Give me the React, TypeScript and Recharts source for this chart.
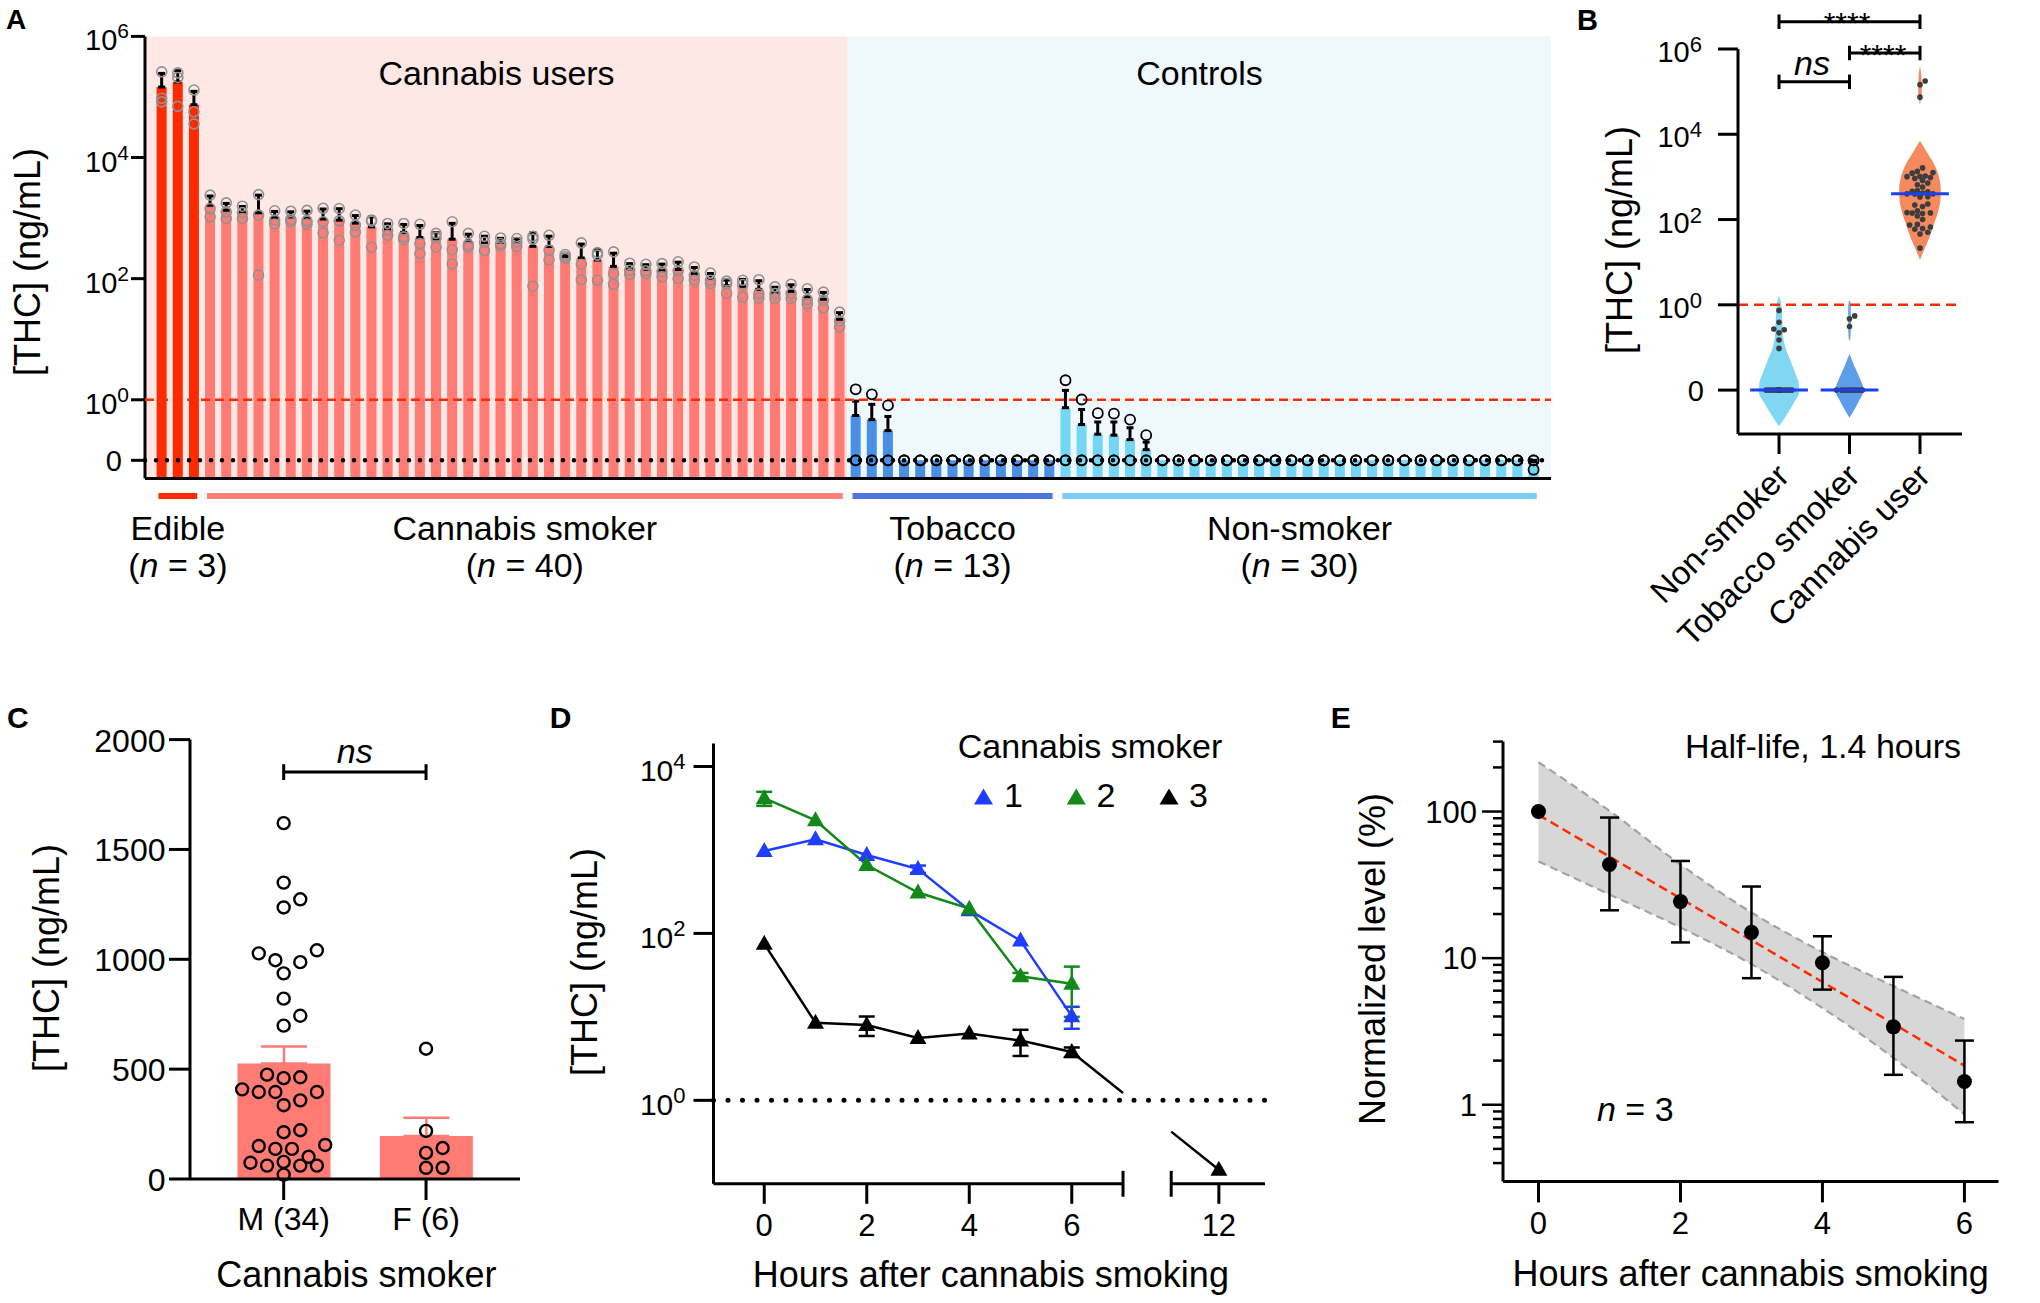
import React from "react";
import {
  ComposedChart,
  Bar,
  Cell,
  ErrorBar,
  Scatter,
  Line,
  Area,
  XAxis,
  YAxis,
  ReferenceLine,
  ReferenceArea,
} from "recharts";

const FONT = '"Liberation Sans", Arial, Helvetica, sans-serif';

// ---------------- A / B : THC per participant (ng/mL) ----------------
// cannabis users, three replicate measurements each
const edibleReps = [
  [260000, 95000, 83000],
  [250000, 210000, 70000],
  [130000, 57000, 36000],
];
const smokerReps = [
  [2390, 1440, 1050], [1780, 1270, 985], [1570, 1230, 985], [2440, 1120, 114],
  [1320, 930, 800], [1300, 950, 880], [1340, 900, 800], [1450, 870, 570],
  [1440, 900, 431], [1125, 765, 590], [930, 890, 330], [815, 630, 520],
  [815, 490, 440], [790, 380, 260], [560, 480, 330], [870, 300, 175],
  [560, 360, 330], [500, 400, 290], [470, 380, 350], [460, 400, 340],
  [500, 450, 75], [520, 295, 205], [250, 230, 215], [390, 173, 96],
  [270, 245, 94], [277, 121, 80], [180, 138, 118], [173, 135, 121],
  [177, 130, 107], [190, 135, 100], [156, 114, 94], [124, 94, 83],
  [91, 83, 57], [94, 80, 50], [96, 56, 48], [73, 57, 47],
  [81, 57, 47], [68, 45, 38], [60, 44, 33], [28, 20, 16],
];
// controls: mean, mean + SD, highest replicate (the other two are below LOD)
const tobaccoMean = [0.55, 0.47, 0.31, 0, 0, 0, 0, 0, 0, 0, 0, 0, 0];
const tobaccoTop = [0.95, 0.84, 0.53, 0, 0, 0, 0, 0, 0, 0, 0, 0, 0];
const tobaccoMax = [1.49, 1.23, 0.81, 0, 0, 0, 0, 0, 0, 0, 0, 0, 0];
const nonSmokerMean = [
  0.74, 0.39, 0.27, 0.26, 0.22, 0.15, 0, 0, 0, 0, 0, 0, 0, 0, 0,
  0, 0, 0, 0, 0, 0, 0, 0, 0, 0, 0, 0, 0, 0, 0.095,
];
const nonSmokerTop = [
  1.43, 0.69, 0.43, 0.43, 0.345, 0.2, 0, 0, 0, 0, 0, 0, 0, 0, 0,
  0, 0, 0, 0, 0, 0, 0, 0, 0, 0, 0, 0, 0, 0, 0.1,
];
const nonSmokerMax = [
  2.1, 1.01, 0.6, 0.59, 0.47, 0.26, 0, 0, 0, 0, 0, 0, 0, 0, 0,
  0, 0, 0, 0, 0, 0, 0, 0, 0, 0, 0, 0, 0, 0, 0.07,
];

// B violin outlines: [log10 value, half width]
const nonSmokerViolin = [
  [0.2, 0], [0.05, 0.03], [-0.3, 0.045], [-0.7, 0.055], [-1.0, 0.09], [-1.3, 0.16],
  [-1.6, 0.23], [-1.85, 0.28], [-2.05, 0.285], [-2.3, 0.21], [-2.55, 0.12], [-2.85, 0],
];
const tobaccoViolinUpper = [[0.12, 0], [0.0, 0.018], [-0.4, 0.02], [-0.75, 0.015], [-0.85, 0]];
const tobaccoViolinLower = [[-1.15, 0], [-1.4, 0.06], [-1.7, 0.14], [-2.0, 0.2], [-2.3, 0.12], [-2.65, 0]];
const cannabisViolinUpper = [[5.6, 0], [5.35, 0.02], [4.95, 0.025], [4.7, 0]];
const cannabisViolinMain = [
  [3.85, 0], [3.6, 0.09], [3.3, 0.2], [3.0, 0.27], [2.7, 0.295], [2.45, 0.29],
  [2.2, 0.26], [1.9, 0.2], [1.6, 0.14], [1.3, 0.06], [1.05, 0],
];
const bNames = ["Non-smoker", "Tobacco smoker", "Cannabis user"];

// ---------------- C ----------------
const maleThc = [
  1620, 1349, 1273, 1236, 1041, 1027, 996, 987, 936, 821, 743, 698, 475, 463, 459, 408, 396,
  396, 396, 358, 336, 222, 213, 155, 150, 137, 137, 101, 78, 74, 61, 61, 61, 20,
];
const femaleThc = [593, 219, 141, 119, 51, 51];
const cNames = ["M (34)", "F (6)"];

// ---------------- D ----------------
const dHours = [0, 1, 2, 3, 4, 5, 6];
const smoker1Thc = [970, 1340, 870, 590, 190, 82, 10.2];
const smoker1Sd = [0, 0, 0, 60, 0, 0, 3];
const smoker2Thc = [4170, 2270, 660, 309, 198, 30.6, 25];
const smoker2Sd = [800, 0, 0, 0, 0, 3, 15];
const smoker3Hours = [0, 1, 2, 3, 4, 5, 6, 12];
const smoker3Thc = [75, 8.5, 8, 5.6, 6.3, 5.2, 3.8, 0.147];
const smoker3Sd = [0, 0, 2.1, 0, 0, 1.8, 0.5, 0];
const dTickHours = [0, 2, 4, 6, 12];

// ---------------- E ----------------
const eHours = [0, 1, 2, 3, 4, 5, 6];
const eLevel = [100, 43.5, 24.3, 15, 9.3, 3.4, 1.44];
const eLow = [100, 21.2, 12.8, 7.3, 6.1, 1.6, 0.76];
const eHigh = [100, 91, 46, 30.8, 14.1, 7.45, 2.74];
const fitHours = [0, 6];
const fitLevel = [95, 1.85];
const bandLow = [45.7, 27.2, 16.2, 9.1, 4.57, 2.09, 0.86];
const bandHigh = [217, 101, 43.5, 20.5, 11, 6.45, 3.84];
const eTicks = [
  0.4, 0.5, 0.6, 0.7, 0.8, 0.9, 1, 2, 3, 4, 5, 6, 7, 8, 9, 10,
  20, 30, 40, 50, 60, 70, 80, 90, 100, 200, 300,
];
const eTickLabels: Record<string, string> = { "1": "1", "10": "10", "100": "100" };

// ---------------- helpers ----------------
const avg = (a: number[]) => a.reduce((s, v) => s + v, 0) / a.length;
const stdev = (a: number[]) => {
  const m = avg(a);
  return Math.sqrt(a.reduce((s, v) => s + (v - m) ** 2, 0) / (a.length - 1));
};
const median = (a: number[]) => {
  const s = [...a].sort((x, y) => x - y);
  const h = Math.floor(s.length / 2);
  return s.length % 2 ? s[h] : (s[h - 1] + s[h]) / 2;
};

// simple beeswarm: x offsets in px so markers do not overlap
function swarm(vals: number[], pxPerY: number, step: number, gap: number, maxOff: number) {
  const cands = [0];
  for (let k = 1; k * step <= maxOff + 1e-6; k++) cands.push(k * step, -k * step);
  const order = vals.map((_, k) => k).sort((a, b) => vals[a] - vals[b]);
  const placed: { x: number; y: number }[] = [];
  const out = vals.map(() => 0);
  for (const k of order) {
    const y = vals[k] * pxPerY;
    let best = 0;
    let bestD = -1;
    for (const c of cands) {
      let d = Infinity;
      for (const p of placed) d = Math.min(d, Math.hypot(p.x - c, p.y - y));
      if (d >= gap) {
        best = c;
        break;
      }
      if (d > bestD) {
        bestD = d;
        best = c;
      }
    }
    placed.push({ x: best, y });
    out[k] = best;
  }
  return out;
}

// ---------------- A setup ----------------
type Group = "edible" | "smoker" | "tobacco" | "nonSmoker";
const GROUPS: Group[] = ["edible", "smoker", "tobacco", "nonSmoker"];
const GROUP_LABEL: Record<Group, string> = {
  edible: "Edible",
  smoker: "Cannabis smoker",
  tobacco: "Tobacco",
  nonSmoker: "Non-smoker",
};
const BAR_COLOR: Record<Group, string> = {
  edible: "#ff2a00",
  smoker: "#ff7b74",
  tobacco: "#4a8fe7",
  nonSmoker: "#74d5f5",
};
const LINE_COLOR: Record<Group, string> = {
  edible: "#ff2a00",
  smoker: "#ff8079",
  tobacco: "#4a78e0",
  nonSmoker: "#7dcaf2",
};

type Sample = { group: Group; mean: number; top: number; reps: number[] };
const samples: Sample[] = [
  ...edibleReps.map((r) => ({ group: "edible" as Group, mean: avg(r), top: avg(r) + stdev(r), reps: r })),
  ...smokerReps.map((r) => ({ group: "smoker" as Group, mean: avg(r), top: avg(r) + stdev(r), reps: r })),
  ...tobaccoMean.map((m, k) => ({ group: "tobacco" as Group, mean: m, top: tobaccoTop[k], reps: [tobaccoMax[k], 0, 0] })),
  ...nonSmokerMean.map((m, k) => ({ group: "nonSmoker" as Group, mean: m, top: nonSmokerTop[k], reps: [nonSmokerMax[k], 0, 0] })),
];
const isUser = (g: Group) => g === "edible" || g === "smoker";

const A_MIN = -1.3;
const A_MAX = 6;
const A_ZERO = -1;
const A_XMIN = -1.035;
const A_XMAX = 86.08;
const A_UNDER = -1.59;
const tA = (v: number) => (v > 0 ? Math.log10(v) : A_ZERO);
const axPx = (idx: number) => 145 + ((idx - A_XMIN) * 1406) / (A_XMAX - A_XMIN);

const aData = samples.map((s, i) => ({
  i,
  range: [A_MIN, tA(s.mean)],
  err: s.top > s.mean ? [0, tA(s.top) - tA(s.mean)] : null,
  color: BAR_COLOR[s.group],
}));
const repUsers = samples.flatMap((s, i) => (isUser(s.group) ? s.reps.map((v) => ({ i, p: tA(v) })) : []));
const repControls = samples.flatMap((s, i) => (!isUser(s.group) ? s.reps.map((v) => ({ i, p: tA(v) })) : []));
const spans = GROUPS.map((g) => {
  const idx = samples.map((s, i) => (s.group === g ? i : -1)).filter((i) => i >= 0);
  return { g, first: idx[0], last: idx[idx.length - 1], n: idx.length };
});
const USER_END = spans[1].last + 0.5;

// ---------------- B setup ----------------
const B_MIN = -3.03;
const B_MAX = 6;
const B_XMIN = -0.582;
const B_XMAX = 2.596;
const B_PX_X = 224 / (B_XMAX - B_XMIN);
const B_PX_Y = 385 / (B_MAX - B_MIN);
const tB = (v: number) => (v > 0 ? Math.log10(v) : -2);
const bValues = [
  nonSmokerMean,
  tobaccoMean,
  samples.filter((s) => isUser(s.group)).map((s) => s.mean),
];
const bDots = bValues.flatMap((vals, c) => {
  const p = vals.map(tB);
  const off = swarm(p, B_PX_Y, 2.6, 5.6, 14);
  return p.map((pv, k) => ({ x: c + off[k] / B_PX_X, p: pv }));
});
const bMedians = bValues.map((vals) => median(vals.map(tB)));
const violins = [
  { c: 0, color: "#80d7f3", prof: nonSmokerViolin },
  { c: 1, color: "#6aa6ec", prof: tobaccoViolinUpper },
  { c: 1, color: "#5c9ee9", prof: tobaccoViolinLower },
  { c: 2, color: "#f58a5f", prof: cannabisViolinUpper },
  { c: 2, color: "#f58a5f", prof: cannabisViolinMain },
].map((v) => ({ ...v, data: v.prof.map(([p, hw]) => ({ p, w: [v.c - hw, v.c + hw] })) }));
const bBrackets = [
  { from: 0, to: 2, p: 6.64 },
  { from: 1, to: 2, p: 5.906 },
  { from: 0, to: 1, p: 5.23 },
];

// ---------------- C setup ----------------
const C_PX_X = 142.3;
const C_XDOM: [number, number] = [-0.658, 1.66];
const cGroups = [maleThc, femaleThc];
const cBars = cGroups.map((vals, c) => ({
  x: c,
  mean: avg(vals),
  err: [0, stdev(vals) / Math.sqrt(vals.length)],
}));
const cDots = cGroups.flatMap((vals, c) => {
  const off = swarm(vals, 0.2198, 8.3, 14.5, 45);
  return vals.map((v, k) => ({ x: c + off[k] / C_PX_X, y: v }));
});

// ---------------- D setup ----------------
const D_XMIN = -0.99;
const D_XMAX = 9.77;
const D_GAP0 = 7.0;
const D_GAP1 = 7.94;
const D_SHIFT = 3.13;
const D_YMIN = 0.1;
const D_YMAX = 18800;
const dPos = (h: number) => (h > D_GAP0 ? h - D_SHIFT : h);
const dSeries = [
  { name: "1", color: "#1f3dff", data: dHours.map((h, k) => ({ x: dPos(h), v: smoker1Thc[k], err: smoker1Sd[k] })) },
  { name: "2", color: "#13891a", data: dHours.map((h, k) => ({ x: dPos(h), v: smoker2Thc[k], err: smoker2Sd[k] })) },
  {
    name: "3",
    color: "#000000",
    data: smoker3Hours
      .map((h, k) => ({ x: dPos(h), v: smoker3Thc[k], err: smoker3Sd[k], h }))
      .filter((d) => d.h <= D_GAP0),
  },
];
// connection from 6 h to 12 h, interrupted at the axis break
const d3Pts = smoker3Hours.map((h, k) => ({ x: dPos(h), v: smoker3Thc[k], h }));
const d3a = d3Pts.filter((d) => d.h <= D_GAP0).slice(-1)[0];
const d3b = d3Pts.filter((d) => d.h > D_GAP0)[0];
const logInterp = (x: number) =>
  10 ** (Math.log10(d3a.v) + ((Math.log10(d3b.v) - Math.log10(d3a.v)) * (x - d3a.x)) / (d3b.x - d3a.x));
const dBridgeA = [{ x: d3a.x, v: d3a.v }, { x: D_GAP0, v: logInterp(D_GAP0) }];
const dBridgeB = [{ x: D_GAP1, v: logInterp(D_GAP1) }, { x: d3b.x, v: d3b.v, marker: true }];

// ---------------- E setup ----------------
const ePoints = eHours.map((h, k) => ({
  x: h,
  v: eLevel[k],
  err: eHigh[k] > eLevel[k] ? [eLevel[k] - eLow[k], eHigh[k] - eLevel[k]] : null,
}));
const eFit = fitHours.map((h, k) => ({ x: h, v: fitLevel[k] }));
const eBand = eHours.map((h, k) => ({ x: h, band: [bandLow[k], bandHigh[k]] }));

// ---------------- shared renderers ----------------
const ring = (stroke: string, r: number, sw: number) => (props: any) =>
  props.cx == null ? <g /> : <circle cx={props.cx} cy={props.cy} r={r} fill="none" stroke={stroke} strokeWidth={sw} />;
const solidDot = (fill: string, r: number) => (props: any) =>
  props.cx == null ? <g /> : <circle cx={props.cx} cy={props.cy} r={r} fill={fill} />;
const triPath = (cx: number, cy: number, hw: number, h: number) =>
  `M${cx},${cy - h * 0.6} L${cx + hw},${cy + h * 0.4} L${cx - hw},${cy + h * 0.4} Z`;
const triangleDot = (color: string, onlyMarked = false) => (props: any) => {
  const { cx, cy, payload, index } = props;
  if (cx == null || cy == null || (onlyMarked && !payload?.marker)) return <g key={`t${index}`} />;
  return <path key={`t${index}`} d={triPath(cx, cy, 8.5, 15)} fill={color} />;
};

const powTick = (size: number, sup: number, supDy: number, dy: number, zeroAt?: number, zeroDy = dy, zeroDx = 0) =>
  (props: any) => {
    const { x, y, payload } = props;
    const v = payload.value;
    if (zeroAt !== undefined && v === zeroAt) {
      return (
        <text x={x + zeroDx} y={y} dy={zeroDy} textAnchor="end" fontSize={size} fontFamily={FONT} fill="#000">
          0
        </text>
      );
    }
    const exp = zeroAt === undefined ? Math.round(Math.log10(v)) : v;
    return (
      <text x={x} y={y} dy={dy} textAnchor="end" fontSize={size} fontFamily={FONT} fill="#000">
        <tspan>10</tspan>
        <tspan dy={supDy} fontSize={sup}>
          {exp}
        </tspan>
      </text>
    );
  };
const xText = (size: number, dy: number, fmt: (v: number) => string) => (props: any) => (
  <text x={props.x} y={props.y} dy={dy} textAnchor="middle" fontSize={size} fontFamily={FONT} fill="#000">
    {fmt(props.payload.value)}
  </text>
);
const yText = (size: number, dy: number) => (props: any) => (
  <text x={props.x} y={props.y} dy={dy} textAnchor="end" fontSize={size} fontFamily={FONT} fill="#000">
    {props.payload.value}
  </text>
);
const AX = { stroke: "#000", strokeWidth: 3 };

// ---------------- panels ----------------
function PanelA() {
  return (
    <div style={{ position: "absolute", left: 0, top: 0 }}>
      <ComposedChart width={1560} height={520} data={aData} margin={{ top: 36.4, right: 9, bottom: 40.5, left: 45 }}>
        <XAxis type="number" dataKey="i" domain={[A_XMIN, A_XMAX]} allowDataOverflow height={1} tick={false} tickLine={false} axisLine={AX} />
        <YAxis
          type="number"
          domain={[A_MIN, A_MAX]}
          allowDataOverflow
          ticks={[A_ZERO, 0, 2, 4, 6]}
          interval={0}
          width={100}
          tickSize={14}
          tickMargin={2}
          tickLine={AX}
          axisLine={AX}
          tick={powTick(29, 21, -12, 14, A_ZERO, 11, -7)}
        />
        <ReferenceArea x1={A_XMIN} x2={USER_END} y1={A_MIN} y2={A_MAX} fill="#fee8e6" fillOpacity={1} stroke="none" zIndex={-10} />
        <ReferenceArea x1={USER_END} x2={A_XMAX} y1={A_MIN} y2={A_MAX} fill="#eef8fd" fillOpacity={1} stroke="none" zIndex={-10} />
        <Bar dataKey="range" barSize={10} isAnimationActive={false}>
          {aData.map((d) => (
            <Cell key={d.i} fill={d.color} />
          ))}
          <ErrorBar dataKey="err" width={3.5} stroke="#000" strokeWidth={3} direction="y" />
        </Bar>
        <ReferenceLine y={0} stroke="#ff2a00" strokeWidth={2.5} strokeDasharray="9 5" zIndex={500} />
        <ReferenceLine y={A_ZERO} stroke="#000" strokeWidth={4.5} strokeDasharray="0 11" strokeLinecap="round" zIndex={500} />
        <Scatter data={repUsers} dataKey="p" shape={ring("#929292", 5, 1.6)} isAnimationActive={false} />
        <Scatter data={repControls} dataKey="p" shape={ring("#000", 5, 1.8)} isAnimationActive={false} />
        {spans.map((s) => (
          <ReferenceLine
            key={s.g}
            segment={[
              { x: s.first - 0.2, y: A_UNDER },
              { x: s.last + 0.2, y: A_UNDER },
            ]}
            stroke={LINE_COLOR[s.g]}
            strokeWidth={6}
            ifOverflow="visible"
          />
        ))}
      </ComposedChart>
    </div>
  );
}

const bXTick = (props: any) => {
  const { x, y, payload } = props;
  const ax = x + 12;
  const ay = y + 24;
  return (
    <text x={ax} y={ay} transform={`rotate(-45 ${ax} ${ay})`} textAnchor="end" fontSize={33} fontFamily={FONT} fill="#000">
      {bNames[payload.value]}
    </text>
  );
};

function PanelB() {
  return (
    <div style={{ position: "absolute", left: 1560, top: 0 }}>
      <ComposedChart layout="vertical" width={480} height={680} margin={{ top: 49, right: 78, bottom: 245, left: 118 }}>
        <XAxis
          type="number"
          dataKey="x"
          domain={[B_XMIN, B_XMAX]}
          allowDataOverflow
          ticks={[0, 1, 2]}
          interval={0}
          height={1}
          tickSize={20}
          tickMargin={0}
          tickLine={AX}
          axisLine={AX}
          tick={bXTick}
        />
        <YAxis
          type="number"
          dataKey="p"
          reversed
          domain={[B_MIN, B_MAX]}
          allowDataOverflow
          ticks={[-2, 0, 2, 4, 6]}
          interval={0}
          width={60}
          tickSize={20}
          tickMargin={16}
          tickLine={AX}
          axisLine={AX}
          tick={powTick(29, 22, -10, 13, -2, 10.5, 2)}
        />
        {violins.map((v, k) => (
          <Area
            key={k}
            data={v.data}
            dataKey="w"
            type="monotone"
            fill={v.color}
            fillOpacity={1}
            stroke="none"
            isAnimationActive={false}
          />
        ))}
        <ReferenceLine y={0} stroke="#ff2a00" strokeWidth={2.5} strokeDasharray="10 6" />
        <Scatter data={bDots} shape={solidDot("#3d3d3d", 2.8)} isAnimationActive={false} />
        {bMedians.map((m, c) => (
          <ReferenceLine
            key={`m${c}`}
            segment={[
              { x: c - 0.41, y: m },
              { x: c + 0.41, y: m },
            ]}
            stroke="#1c3ff0"
            strokeWidth={3}
            zIndex={700}
          />
        ))}
        {bBrackets.map((b, k) => (
          <React.Fragment key={`b${k}`}>
            <ReferenceLine segment={[{ x: b.from, y: b.p }, { x: b.to, y: b.p }]} stroke="#000" strokeWidth={3} ifOverflow="visible" />
            <ReferenceLine segment={[{ x: b.from, y: b.p - 0.17 }, { x: b.from, y: b.p + 0.17 }]} stroke="#000" strokeWidth={3} ifOverflow="visible" />
            <ReferenceLine segment={[{ x: b.to, y: b.p - 0.17 }, { x: b.to, y: b.p + 0.17 }]} stroke="#000" strokeWidth={3} ifOverflow="visible" />
          </React.Fragment>
        ))}
      </ComposedChart>
    </div>
  );
}

function PanelC() {
  return (
    <div style={{ position: "absolute", left: 0, top: 680 }}>
      <ComposedChart width={540} height={623} data={cBars} margin={{ top: 59.6, right: 20, bottom: 123, left: 90 }}>
        <XAxis
          type="number"
          dataKey="x"
          domain={C_XDOM}
          allowDataOverflow
          ticks={[0, 1]}
          interval={0}
          height={1}
          tickSize={21}
          tickMargin={0}
          tickLine={AX}
          axisLine={AX}
          tick={xText(32, 30, (v) => cNames[v])}
        />
        <XAxis xAxisId="dots" type="number" dataKey="x" domain={C_XDOM} allowDataOverflow hide />
        <YAxis
          type="number"
          domain={[0, 2000]}
          ticks={[0, 500, 1000, 1500, 2000]}
          interval={0}
          width={100}
          tickSize={21}
          tickMargin={3.5}
          tickLine={AX}
          axisLine={AX}
          tick={yText(32, 12)}
        />
        <Bar dataKey="mean" barSize={93} fill="#ff7b74" isAnimationActive={false}>
          <ErrorBar dataKey="err" width={23} stroke="#ff7b74" strokeWidth={2.5} direction="y" />
        </Bar>
        <Scatter xAxisId="dots" data={cDots} dataKey="y" shape={ring("#000", 6, 2.4)} isAnimationActive={false} />
        <ReferenceLine segment={[{ x: 0, y: 1852 }, { x: 1, y: 1852 }]} stroke="#000" strokeWidth={3} />
        <ReferenceLine segment={[{ x: 0, y: 1816 }, { x: 0, y: 1888 }]} stroke="#000" strokeWidth={3} />
        <ReferenceLine segment={[{ x: 1, y: 1816 }, { x: 1, y: 1888 }]} stroke="#000" strokeWidth={3} />
      </ComposedChart>
    </div>
  );
}

function PanelD() {
  const tickUp = D_YMIN * 10 ** 0.155;
  const tickDown = D_YMIN * 10 ** -0.155;
  return (
    <div style={{ position: "absolute", left: 540, top: 680 }}>
      <ComposedChart width={760} height={623} margin={{ top: 63.6, right: 35, bottom: 118.2, left: 53.5 }}>
        <XAxis
          type="number"
          dataKey="x"
          domain={[D_XMIN, D_XMAX]}
          allowDataOverflow
          ticks={dTickHours.map(dPos)}
          interval={0}
          height={1}
          tickSize={20}
          tickMargin={0}
          tickLine={AX}
          axisLine={false}
          tick={xText(31, 32, (v) => String(Math.round(v > D_GAP0 ? v + D_SHIFT : v)))}
        />
        <YAxis
          type="number"
          scale="log"
          domain={[D_YMIN, D_YMAX]}
          allowDataOverflow
          ticks={[1, 100, 10000]}
          interval={0}
          width={120}
          tickSize={20}
          tickMargin={8}
          tickLine={AX}
          axisLine={AX}
          tick={powTick(30, 22, -12, 14.5)}
        />
        <ReferenceLine y={1} stroke="#000" strokeWidth={5} strokeDasharray="0 14.5" strokeLinecap="round" />
        <ReferenceLine segment={[{ x: D_XMIN, y: D_YMIN }, { x: D_GAP0, y: D_YMIN }]} stroke="#000" strokeWidth={3} ifOverflow="visible" />
        <ReferenceLine segment={[{ x: D_GAP1, y: D_YMIN }, { x: D_XMAX, y: D_YMIN }]} stroke="#000" strokeWidth={3} ifOverflow="visible" />
        <ReferenceLine segment={[{ x: D_GAP0, y: tickDown }, { x: D_GAP0, y: tickUp }]} stroke="#000" strokeWidth={3} ifOverflow="visible" />
        <ReferenceLine segment={[{ x: D_GAP1, y: tickDown }, { x: D_GAP1, y: tickUp }]} stroke="#000" strokeWidth={3} ifOverflow="visible" />
        {dSeries.map((s) => (
          <Line
            key={s.name}
            data={s.data}
            dataKey="v"
            type="linear"
            stroke={s.color}
            strokeWidth={2.5}
            dot={triangleDot(s.color)}
            activeDot={false}
            isAnimationActive={false}
          >
            <ErrorBar dataKey="err" width={8} stroke={s.color} strokeWidth={2.5} direction="y" />
          </Line>
        ))}
        <Line data={dBridgeA} dataKey="v" type="linear" stroke="#000" strokeWidth={2.5} dot={false} activeDot={false} isAnimationActive={false} />
        <Line
          data={dBridgeB}
          dataKey="v"
          type="linear"
          stroke="#000"
          strokeWidth={2.5}
          dot={triangleDot("#000", true)}
          activeDot={false}
          isAnimationActive={false}
        />
      </ComposedChart>
    </div>
  );
}

const eYTick = (props: any) => {
  const { x, y, payload } = props;
  const axisX = x + 1;
  const label = eTickLabels[String(payload.value)];
  const len = label ? 21 : 10;
  return (
    <g>
      <line x1={axisX - len} x2={axisX} y1={y} y2={y} stroke="#000" strokeWidth={2.5} />
      {label && (
        <text x={axisX - 26} y={y} dy={11} textAnchor="end" fontSize={31} fontFamily={FONT} fill="#000">
          {label}
        </text>
      )}
    </g>
  );
};

function PanelE() {
  return (
    <div style={{ position: "absolute", left: 1300, top: 680 }}>
      <ComposedChart width={740} height={623} margin={{ top: 61.6, right: 41.5, bottom: 120.6, left: 103 }}>
        <XAxis
          type="number"
          dataKey="x"
          domain={[-0.5, 6.48]}
          allowDataOverflow
          ticks={[0, 2, 4, 6]}
          interval={0}
          height={1}
          tickSize={21}
          tickMargin={0}
          tickLine={AX}
          axisLine={AX}
          tick={xText(31, 31.6, (v) => String(v))}
        />
        <YAxis
          type="number"
          scale="log"
          domain={[0.3, 300]}
          allowDataOverflow
          ticks={eTicks}
          interval={0}
          width={100}
          tickSize={1}
          tickMargin={0}
          tickLine={false}
          axisLine={AX}
          tick={eYTick}
        />
        <Area
          data={eBand}
          dataKey="band"
          type="monotone"
          fill="#d7d7d7"
          fillOpacity={1}
          stroke="#a3a3a3"
          strokeWidth={2.2}
          strokeDasharray="8 5"
          isAnimationActive={false}
        />
        <Line data={eFit} dataKey="v" type="linear" stroke="#ff2a00" strokeWidth={2.5} strokeDasharray="9 5" dot={false} activeDot={false} isAnimationActive={false} />
        <Line data={ePoints} dataKey="v" stroke="none" dot={solidDot("#000", 7.5)} activeDot={false} isAnimationActive={false}>
          <ErrorBar dataKey="err" width={9.5} stroke="#000" strokeWidth={2.5} direction="y" />
        </Line>
      </ComposedChart>
    </div>
  );
}

// ---------------- text overlay ----------------
const Txt = ({ x, y, size = 34, anchor = "middle", bold = false, italic = false, rot = 0, children }: any) => (
  <text
    x={x}
    y={y}
    fontSize={size}
    textAnchor={anchor}
    fontWeight={bold ? 700 : 400}
    fontStyle={italic ? "italic" : "normal"}
    fontFamily={FONT}
    fill="#000"
    transform={rot ? `rotate(${rot} ${x} ${y})` : undefined}
  >
    {children}
  </text>
);

function Overlay() {
  return (
    <svg width={2040} height={1303} style={{ position: "absolute", left: 0, top: 0, pointerEvents: "none" }}>
      {/* A */}
      <Txt x={6} y={29} size={28} anchor="start" bold>A</Txt>
      <Txt x={496.5} y={85}>Cannabis users</Txt>
      <Txt x={1199.5} y={85}>Controls</Txt>
      <Txt x={39.5} y={262} size={36} rot={-90}>[THC] (ng/mL)</Txt>
      {spans.map((s) => {
        const cx = axPx((s.first + s.last) / 2);
        return (
          <g key={s.g}>
            <Txt x={cx} y={540}>{GROUP_LABEL[s.g]}</Txt>
            <Txt x={cx} y={577}>
              (<tspan fontStyle="italic">n</tspan> = {s.n})
            </Txt>
          </g>
        );
      })}
      {/* B */}
      <Txt x={1577} y={30} size={29} anchor="start" bold>B</Txt>
      <Txt x={1632} y={240} size={36} rot={-90}>[THC] (ng/mL)</Txt>
      <Txt x={1847} y={33} size={30}>****</Txt>
      <Txt x={1883} y={65} size={30}>****</Txt>
      <Txt x={1812} y={75} italic>ns</Txt>
      {/* C */}
      <Txt x={7} y={728} size={30} anchor="start" bold>C</Txt>
      <Txt x={58.5} y={958} size={36} rot={-90}>[THC] (ng/mL)</Txt>
      <Txt x={354.7} y={763.4} italic>ns</Txt>
      <Txt x={356.4} y={1287} size={36}>Cannabis smoker</Txt>
      {/* D */}
      <Txt x={549.7} y={728} size={30} anchor="start" bold>D</Txt>
      <Txt x={597.3} y={962} size={36} rot={-90}>[THC] (ng/mL)</Txt>
      <Txt x={990.8} y={1287} size={36}>Hours after cannabis smoking</Txt>
      <Txt x={1090} y={757.5}>Cannabis smoker</Txt>
      {dSeries.map((s, k) => (
        <g key={s.name}>
          <path d={triPath(983.5 + k * 92.75, 798, 9.5, 16)} fill={s.color} />
          <Txt x={1004 + k * 92.5} y={807} anchor="start">{s.name}</Txt>
        </g>
      ))}
      {/* E */}
      <Txt x={1330.7} y={728} size={30} anchor="start" bold>E</Txt>
      <Txt x={1823} y={757.5}>Half-life, 1.4 hours</Txt>
      <Txt x={1597} y={1121} anchor="start">
        <tspan fontStyle="italic">n</tspan> = 3
      </Txt>
      <Txt x={1385} y={959} size={36} rot={-90}>Normalized level (%)</Txt>
      <Txt x={1750.7} y={1286} size={36}>Hours after cannabis smoking</Txt>
    </svg>
  );
}

export default function App() {
  return (
    <div style={{ position: "absolute", left: 0, top: 0, width: 2040, height: 1303, background: "#fff", fontFamily: FONT, overflow: "hidden" }}>
      <PanelA />
      <PanelB />
      <PanelC />
      <PanelD />
      <PanelE />
      <Overlay />
    </div>
  );
}
